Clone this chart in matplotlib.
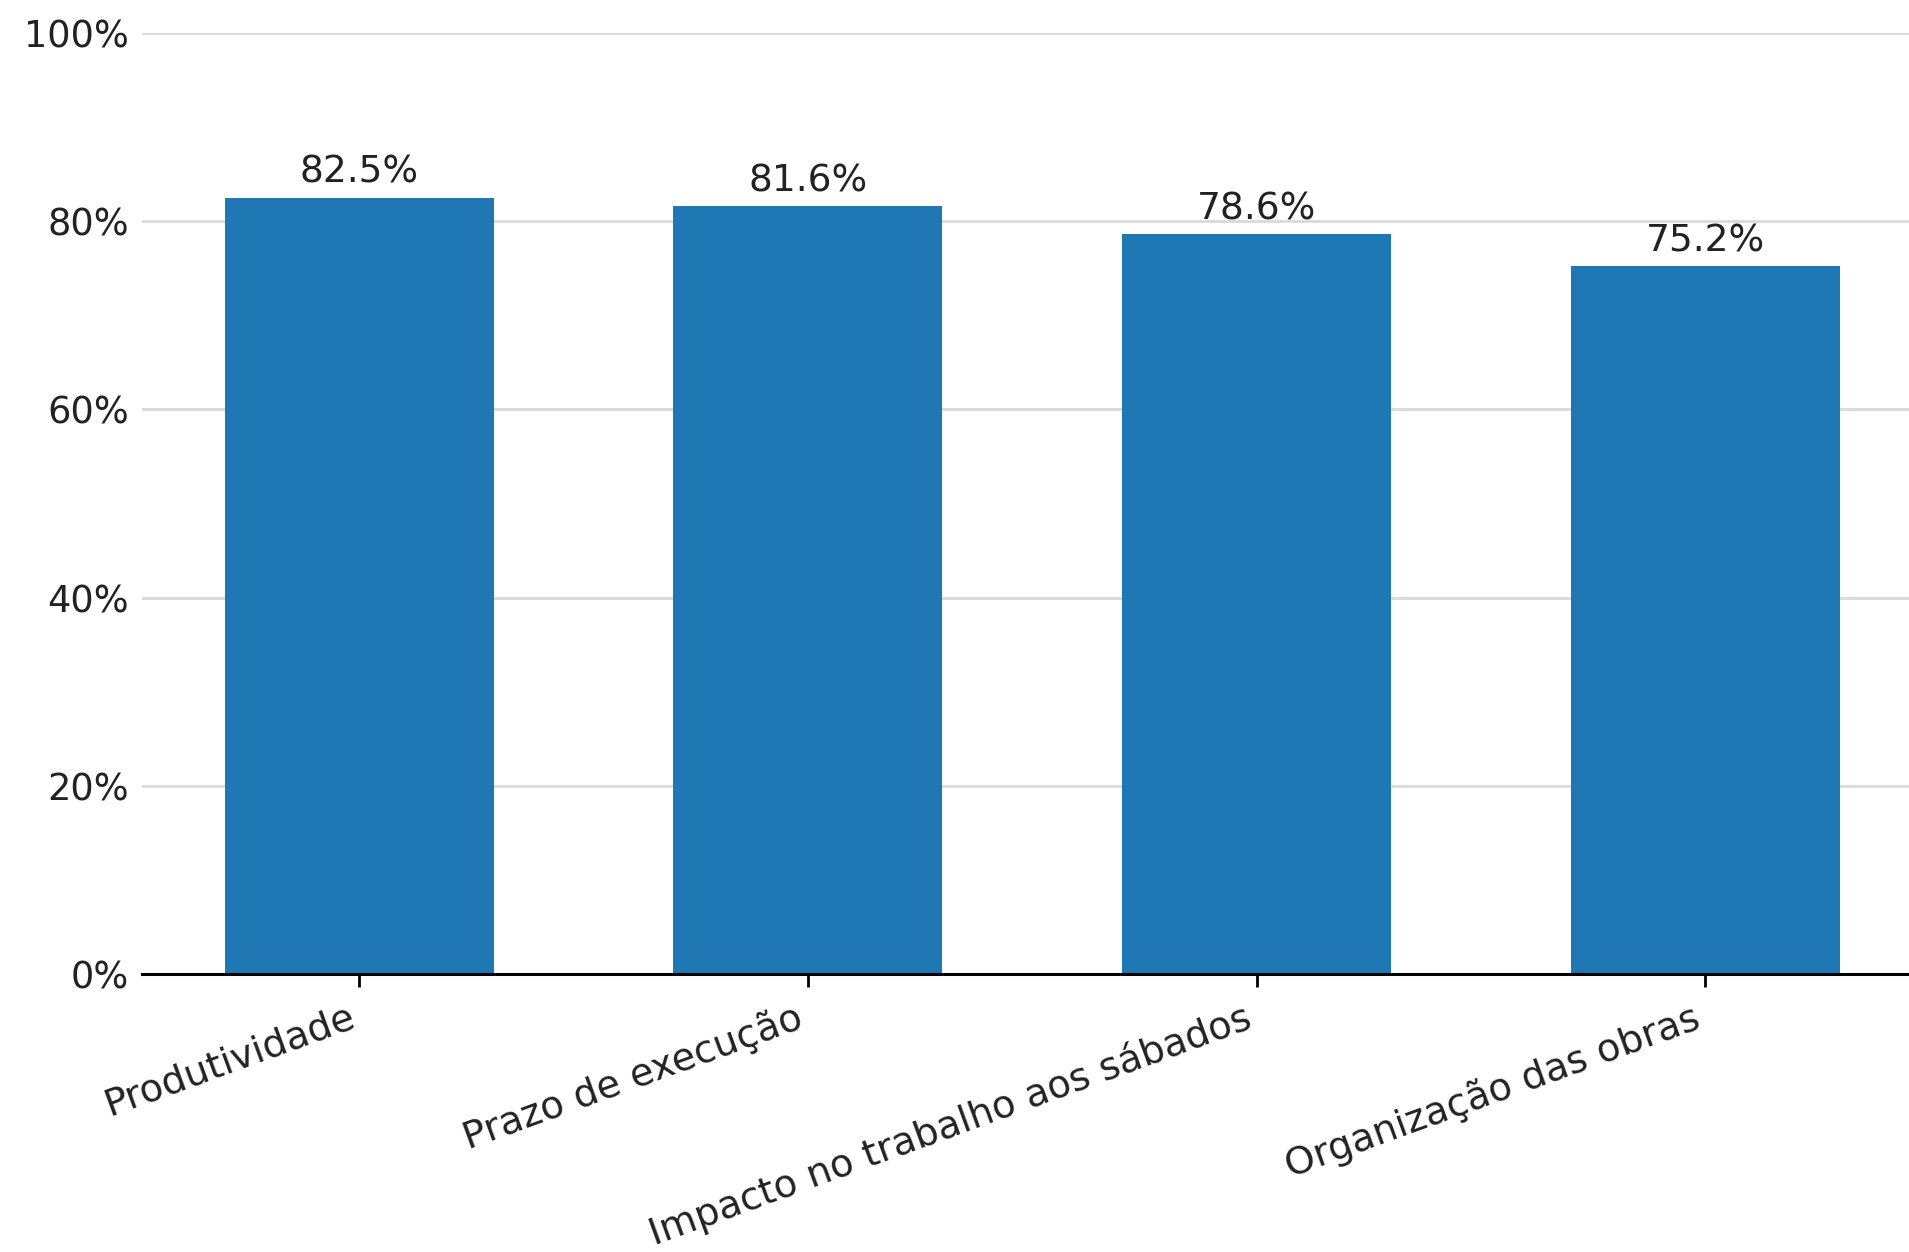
import matplotlib
matplotlib.use("Agg")
import matplotlib.pyplot as plt
from matplotlib.ticker import FuncFormatter

categories = ["Produtividade", "Prazo de execução", "Impacto no trabalho aos sábados", "Organização das obras"]
values = [82.5, 81.6, 78.6, 75.2]
yticks = [0, 20, 40, 60, 80, 100]

fig = plt.figure(figsize=(19.09, 12.52), dpi=100)
ax = fig.add_axes([141.7/1909, 1-974/1252, 1781/1909, (974-33)/1252])

x = list(range(len(categories)))
bars = ax.bar(x, values, width=0.6, color="#1f77b4", zorder=3)
for b, v in zip(bars, values):
    ax.annotate(f"{v:.1f}%", (b.get_x() + b.get_width()/2, v), xytext=(0, 5),
                textcoords="offset points", ha="center", va="bottom", fontsize=27, color="#222222")

ax.set_ylim(0, 100)
ax.set_xlim(-0.485, 3.485)
ax.set_yticks(yticks)
ax.yaxis.set_major_formatter(FuncFormatter(lambda v, p: f"{v:.0f}%"))
ax.grid(axis="y", color="#d9d9d9", linewidth=2, zorder=0)
ax.set_xticks(x)
ax.set_xticklabels(categories, rotation=20, ha="right", fontsize=27.5, color="#222222")
ax.tick_params(axis="y", length=0, labelsize=26.5, labelcolor="#222222", pad=9)
ax.tick_params(axis="x", length=9, width=2, pad=9)
for s in ["top", "right", "left"]:
    ax.spines[s].set_visible(False)
ax.spines["bottom"].set_linewidth(2.2)
ax.spines["bottom"].set_zorder(4)

fig.savefig("out.png", dpi=100)
